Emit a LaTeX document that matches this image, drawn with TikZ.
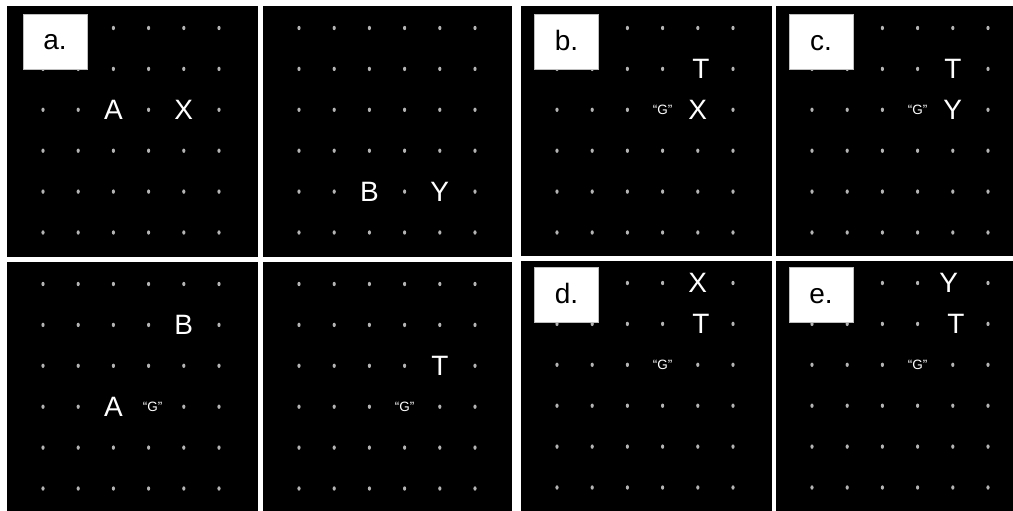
\documentclass[tikz,border=0pt]{standalone}
\usepackage{fontspec}
\setmainfont{Liberation Sans}
\usepackage{tikz}
\definecolor{spotgrey}{HTML}{B4B4B4}
\definecolor{tagedge}{HTML}{BFBFBF}

% one black display with its 6x6 grid of fixation dots
\newcommand{\drawpanel}[5]{%
  \begin{scope}[shift={(#2,#3)}]
    \fill[panelbg] (0,0) rectangle (#4,#5);
    \foreach \i in {1,...,6}
      \foreach \j in {1,...,6} {
        \coordinate (#1-\i-\j) at (0.8+35.2*\i,-18.9+40.9*\j);
        \fill[spot] (#1-\i-\j) ellipse (1.6 and 2.2);
      }
  \end{scope}}

\begin{document}
\begin{tikzpicture}[x=1pt,y=-1pt,
  panelbg/.style={fill=black},
  spot/.style={fill=spotgrey},
  glyph/.style={fill=black,text=white,inner sep=0pt,font=\fontsize{28}{30}\selectfont},
  cue/.style={fill=black,text=white,inner sep=0pt,font=\fontsize{13.5}{15}\selectfont},
  tag/.style={fill=white,draw=tagedge,line width=0.6pt,minimum width=64pt,
              minimum height=55pt,inner sep=0pt,text height=17pt,text depth=0pt,
              font=\fontsize{28}{30}\selectfont}
]
  \useasboundingbox (0,0) rectangle (1013,511);
  \fill[white] (0,0) rectangle (1013,511);

  \drawpanel{pa}{7}{6}{251}{251}
  \drawpanel{pb}{263}{6}{249}{251}
  \drawpanel{pc}{521}{6}{251}{250}
  \drawpanel{pd}{776}{6}{237}{250}
  \drawpanel{pe}{7}{262}{251}{249}
  \drawpanel{pf}{263}{262}{249}{249}
  \drawpanel{pg}{521}{261}{251}{250}
  \drawpanel{ph}{776}{261}{237}{250}

  % study items
  \node[glyph] (pa-A) at (pa-3-3) {A};
  \node[glyph] (pa-X) at (pa-5-3) {X};
  \node[glyph] (pb-B) at (pb-3-5) {B};
  \node[glyph] (pb-Y) at (pb-5-5) {Y};
  \node[glyph] (pe-B) at (pe-5-2) {B};
  \node[glyph] (pe-A) at (pe-3-4) {A};
  \node[cue] (pe-G) at ([xshift=4]pe-4-4) {“G”};
  \node[glyph] (pf-T) at (pf-5-3) {T};
  \node[cue] (pf-G) at (pf-4-4) {“G”};

  % test displays
  \node[glyph] (pc-T) at ([xshift=3]pc-5-2) {T};
  \node[glyph] (pc-X) at (pc-5-3) {X};
  \node[cue] (pc-G) at (pc-4-3) {“G”};
  \node[glyph] (pd-T) at (pd-5-2) {T};
  \node[glyph] (pd-Y) at (pd-5-3) {Y};
  \node[cue] (pd-G) at (pd-4-3) {“G”};
  \node[glyph] (pg-X) at (pg-5-1) {X};
  \node[glyph] (pg-T) at ([xshift=3]pg-5-2) {T};
  \node[cue] (pg-G) at (pg-4-3) {“G”};
  \node[glyph] (ph-Y) at ([xshift=-4]ph-5-1) {Y};
  \node[glyph] (ph-T) at ([xshift=3]ph-5-2) {T};
  \node[cue] (ph-G) at (ph-4-3) {“G”};

  % panel tags
  \node[tag] (taga) at (55,41.5) {a.};
  \node[tag] (tagb) at (566.5,42) {b.};
  \node[tag] (tagc) at (821,42) {c.};
  \node[tag] (tagd) at (566.5,294.5) {d.};
  \node[tag] (tage) at (821,294.5) {e.};
\end{tikzpicture}
\end{document}
